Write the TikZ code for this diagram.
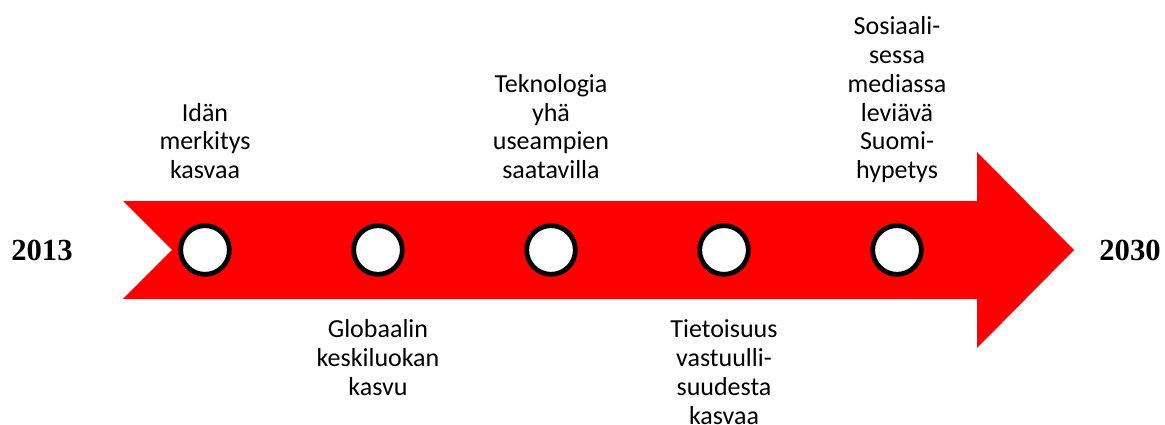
\documentclass[tikz,border=0pt]{standalone}
\usepackage{fontspec}
\setmainfont{Carlito}
\newfontfamily\yearfont{Liberation Serif}
\usetikzlibrary{positioning}
\tikzset{dot/.style={circle,draw=black,fill=white,line width=3.6pt,minimum size=36.5pt,inner sep=0pt,outer sep=0pt},
  event/.style={align=center,inner sep=0pt,font=\fontsize{19.5}{21.6}\selectfont},
  year/.style={font=\yearfont\bfseries\fontsize{23}{26}\selectfont}}

\begin{document}
\begin{tikzpicture}[x=0.75pt, y=0.75pt]
    \useasboundingbox (0,0) rectangle (1165,425);
    \fill[red] (123,224) -- (977,224) -- (977,273) -- (1074,175)
      -- (977,77) -- (977,126) -- (123,126) -- (172,175) -- cycle;

    \foreach \i/\x in {1/205, 2/378, 3/551, 4/724, 5/897}
      \node[dot] (d\i) at (\x,175) {};

    \node[year] (y-start) at (42,175) {2013};
    \node[year] (y-end) at (1130,175) {2030};

    \node[event, above=35pt of d1, text depth=0pt] (e1) {Idän\\merkitys\\kasvaa};
    \node[event, below=34pt of d2] (e2) {Globaalin\\keskiluokan\\kasvu};
    \node[event, above=35pt of d3, text depth=0pt] (e3) {Teknologia\\yhä\\useampien\\saatavilla};
    \node[event, below=34pt of d4] (e4) {Tietoisuus\\vastuulli-\\suudesta\\kasvaa};
    \node[event, above=35pt of d5, text depth=0pt] (e5) {Sosiaali-\\sessa\\mediassa\\leviävä\\Suomi-\\hypetys};
\end{tikzpicture}
\end{document}
